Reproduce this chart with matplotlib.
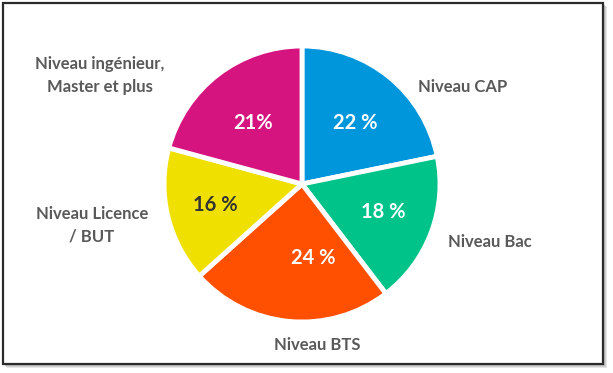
import matplotlib
matplotlib.use('Agg')
import matplotlib.pyplot as plt
from matplotlib.patches import Rectangle

# Data, clockwise from the top
categories = ['Niveau CAP', 'Niveau Bac', 'Niveau BTS',
              'Niveau Licence\n/ BUT', 'Niveau ingénieur,\nMaster et plus']
shares = [22, 18, 24, 16, 21]
pct_labels = ['22 %', '18 %', '24 %', '16 %', '21%']

colors = ['#0096DB', '#00C38A', '#FF4F00', '#F0E000', '#D6147F']
pct_colors = ['white', 'white', 'white', '#333333', 'white']

# label placement (data units, pie radius = 1)
label_pos = [(1.167, 0.70), (1.362, -0.42), (0.109, -1.167),
             (-1.522, -0.30), (-1.464, 0.785)]
pct_pos = [(0.384, 0.44), (0.587, -0.203), (0.080, -0.536),
           (-0.630, -0.152), (-0.355, 0.44)]

plt.rcParams['font.family'] = ['Lato', 'DejaVu Sans']

W, H, DPI = 613, 373, 100
fig = plt.figure(figsize=(W / DPI, H / DPI), dpi=DPI)
fig.patch.set_facecolor('white')

# frame with a soft shadow
for off, col in [(4, '#e4e4e4'), (3, '#d0d0d0'), (2, '#bdbdbd')]:
    fig.patches.append(Rectangle(((3 + off) / W, 1 - (364 + off) / H),
                                 600 / W, 361 / H, transform=fig.transFigure,
                                 facecolor=col, edgecolor='none', zorder=-3))
fig.patches.append(Rectangle((3 / W, 1 - 364 / H), 600 / W, 361 / H,
                             transform=fig.transFigure, facecolor='white',
                             edgecolor='#2b2b2b', linewidth=1.6, zorder=-2))

ax = fig.add_axes([0, 0, 1, 1])
ax.set_zorder(5)
ax.set_facecolor('none')

ax.pie(shares, colors=colors, startangle=90, counterclock=False,
       wedgeprops=dict(edgecolor='white', linewidth=3.5))

# pie() resets the limits, so set them afterwards
r_px = 138
cx, cy = 302, 184
ax.set_xlim(-cx / r_px, (W - cx) / r_px)
ax.set_ylim(-(H - cy) / r_px, cy / r_px)
ax.set_aspect('equal')
ax.axis('off')

for (x, y), txt in zip(label_pos, categories):
    ax.text(x, y, txt, ha='center', va='center', fontsize=12,
            fontweight='bold', color='#595959', linespacing=1.55)

for (x, y), txt, c in zip(pct_pos, pct_labels, pct_colors):
    ax.text(x, y, txt, ha='center', va='center', fontsize=14.5,
            fontweight='bold', color=c)

fig.savefig('out.png', dpi=DPI)
